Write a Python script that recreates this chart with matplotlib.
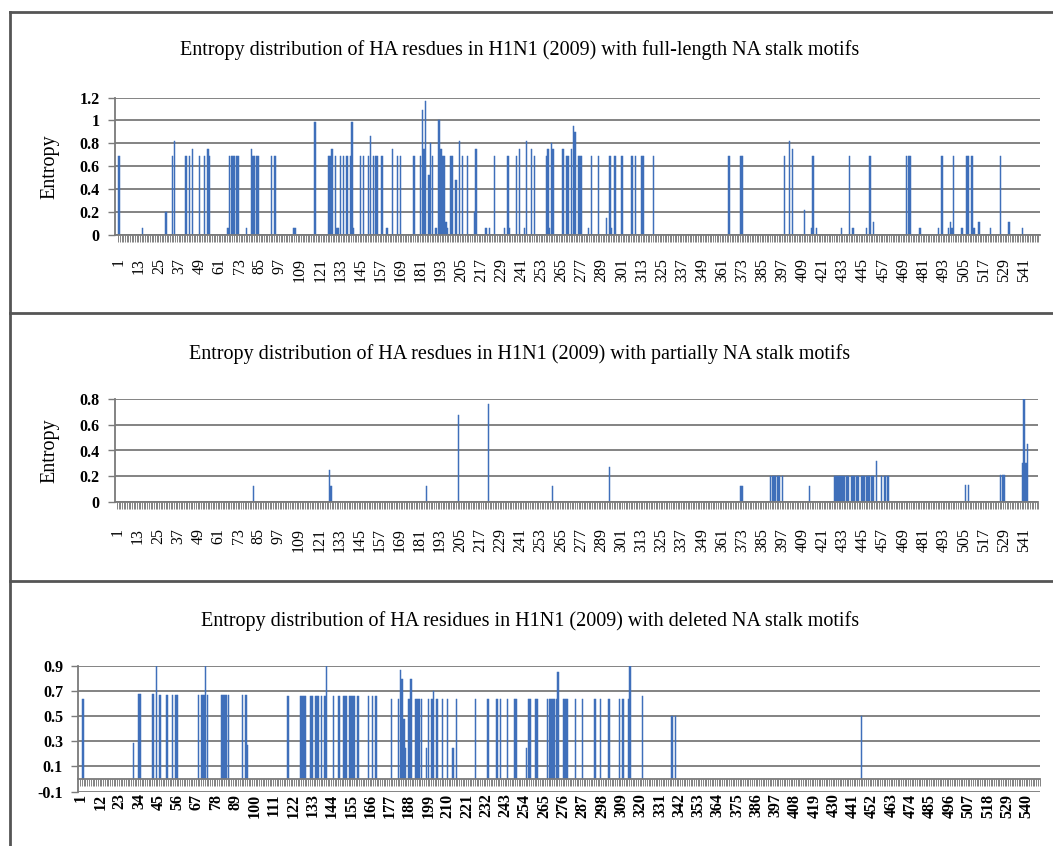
import numpy as np
import matplotlib
matplotlib.use("Agg")
import matplotlib.pyplot as plt
from matplotlib.lines import Line2D

plt.rcParams['font.family'] = ['Liberation Serif', 'DejaVu Serif']

# ---------------- data ----------------
n_residues_12 = 549   # panels 1 & 2
n_residues_3 = 547    # panel 3

# Panel 1: full-length NA stalk motifs  (residue position, entropy)
full_pos = [1, 15, 29, 33, 34, 41, 43, 45, 49, 52, 54, 55, 66, 67, 68, 69, 70, 71, 72,
            77, 80, 81, 82, 83, 84, 92, 94, 105, 106, 118, 126, 127, 128, 130, 131, 132,
            133, 135, 137, 139, 140, 141, 145, 147, 150, 151, 153, 154, 155, 158, 161,
            164, 167, 169, 177, 181, 182, 183, 184, 186, 187, 188, 190, 192, 193, 194,
            195, 196, 197, 199, 200, 202, 204, 206, 209, 213, 214, 220, 222, 225, 231,
            233, 234, 238, 240, 243, 244, 247, 249, 256, 257, 258, 259, 260, 266, 268,
            269, 271, 272, 273, 275, 276, 277, 281, 283, 287, 292, 294, 295, 297, 301,
            307, 309, 313, 314, 320, 365, 372, 373, 398, 401, 403, 410, 414, 415, 417,
            432, 437, 439, 447, 449, 451, 471, 472, 473, 479, 490, 492, 496, 497, 498,
            499, 504, 507, 508, 510, 511, 514, 521, 527, 532, 540]
full_val = [0.69, 0.06, 0.20, 0.69, 0.82, 0.69, 0.69, 0.75, 0.69, 0.69, 0.75, 0.69, 0.06,
            0.69, 0.69, 0.69, 0.69, 0.69, 0.69,
            0.06, 0.75, 0.69, 0.69, 0.69, 0.69, 0.69, 0.69, 0.06, 0.06, 0.99, 0.69, 0.69,
            0.75, 0.69, 0.06, 0.06,
            0.69, 0.69, 0.69, 0.69, 0.99, 0.06, 0.69, 0.69, 0.69, 0.86, 0.69, 0.69, 0.69,
            0.69, 0.06,
            0.75, 0.69, 0.69, 0.69, 0.69, 1.09, 0.75, 1.17, 0.52, 0.80, 0.69, 0.06, 1.00,
            0.75, 0.69,
            0.69, 0.11, 0.06, 0.69, 0.69, 0.48, 0.82, 0.69, 0.69, 0.20, 0.75, 0.06, 0.06,
            0.69, 0.06,
            0.69, 0.06, 0.69, 0.75, 0.06, 0.82, 0.75, 0.69, 0.69, 0.75, 0.06, 0.80, 0.75,
            0.75, 0.69,
            0.69, 0.75, 0.95, 0.90, 0.69, 0.69, 0.69, 0.06, 0.69, 0.69, 0.15, 0.69, 0.06,
            0.69, 0.69,
            0.69, 0.69, 0.69, 0.69, 0.69, 0.69, 0.69, 0.69, 0.69, 0.82, 0.75, 0.22, 0.06,
            0.69, 0.06,
            0.06, 0.69, 0.06, 0.06, 0.69, 0.11, 0.69, 0.69, 0.69, 0.06, 0.06, 0.69, 0.06,
            0.11, 0.06,
            0.69, 0.06, 0.69, 0.69, 0.69, 0.06, 0.11, 0.06, 0.69, 0.11, 0.06]

# Panel 2: partially NA stalk motifs
part_pos = [82, 127, 128, 185, 204, 222, 260, 294, 372, 373,
            390, 391, 392, 393, 394, 395, 397, 413,
            428, 429, 430, 431, 432, 433, 434, 435, 436,
            438, 439, 440, 441, 442,
            444, 445, 446, 447, 448, 449, 450, 451, 453, 456, 458, 460,
            506, 508, 527, 528, 529, 540, 541, 542, 543]
part_val = [0.12, 0.25, 0.12, 0.12, 0.68, 0.76, 0.12, 0.27, 0.12, 0.12,
            0.20, 0.20, 0.20, 0.20, 0.20, 0.20, 0.20, 0.12,
            0.20, 0.20, 0.20, 0.20, 0.20, 0.20, 0.20, 0.20, 0.20,
            0.20, 0.20, 0.20, 0.20, 0.20,
            0.20, 0.20, 0.20, 0.20, 0.20, 0.20, 0.20, 0.20, 0.32, 0.20, 0.20, 0.20,
            0.13, 0.13, 0.21, 0.21, 0.21, 0.30, 0.80, 0.30, 0.45]

# Panel 3: deleted NA stalk motifs
del_pos = [2, 31, 34, 35, 42, 44, 46, 50, 53, 55, 56, 68, 70, 71, 72, 73,
           81, 82, 83, 84, 85, 93, 95, 96, 119, 126, 127, 128, 129,
           132, 133, 135, 136, 138, 140, 141, 145, 148, 151, 152, 154, 155, 156, 157,
           159, 165, 167, 169, 178, 182, 183, 184, 185, 186, 188, 189,
           192, 193, 194, 195, 198, 199, 201, 202, 204, 207, 210, 213, 215,
           226, 233, 238, 240, 244, 248, 249, 255, 256, 257, 260, 261,
           267, 268, 269, 270, 271, 272, 273, 276, 277, 278, 283, 287,
           294, 297, 302, 308, 310, 313, 314, 321, 338, 340, 446]
del_val = [0.64, 0.29, 0.68, 0.68, 0.68, 0.90, 0.67, 0.67, 0.67, 0.67, 0.67, 0.67, 0.67,
           0.67, 0.90, 0.67,
           0.67, 0.67, 0.67, 0.67, 0.67, 0.67, 0.67, 0.27, 0.66, 0.66, 0.66, 0.66, 0.66,
           0.66, 0.66, 0.66, 0.66, 0.66, 0.66, 0.90, 0.66, 0.66, 0.66, 0.66, 0.66, 0.66,
           0.66, 0.66,
           0.66, 0.66, 0.66, 0.66, 0.64, 0.64, 0.87, 0.80, 0.48, 0.25, 0.64, 0.80,
           0.64, 0.64, 0.64, 0.64, 0.25, 0.64, 0.64, 0.70, 0.64, 0.64, 0.64, 0.25, 0.64,
           0.64, 0.64, 0.64, 0.64, 0.64, 0.64, 0.64, 0.25, 0.64, 0.64, 0.64, 0.64,
           0.64, 0.64, 0.64, 0.64, 0.64, 0.64, 0.85, 0.64, 0.64, 0.64, 0.64, 0.64,
           0.64, 0.64, 0.64, 0.64, 0.64, 0.64, 0.90, 0.66, 0.50, 0.50, 0.50]

titles = ["Entropy distribution of HA resdues in H1N1 (2009) with full-length NA stalk motifs",
          "Entropy distribution of HA resdues in H1N1 (2009) with partially NA stalk motifs",
          "Entropy distribution of HA residues in H1N1 (2009) with deleted NA stalk motifs"]

yticks_1 = [0, 0.2, 0.4, 0.6, 0.8, 1, 1.2]
ytick_labels_1 = ["0", "0.2", "0.4", "0.6", "0.8", "1", "1.2"]
yticks_2 = [0, 0.2, 0.4, 0.6, 0.8]
ytick_labels_2 = ["0", "0.2", "0.4", "0.6", "0.8"]
yticks_3 = [-0.1, 0.1, 0.3, 0.5, 0.7, 0.9]
ytick_labels_3 = ["-0.1", "0.1", "0.3", "0.5", "0.7", "0.9"]
xticks_12 = list(range(1, 542, 12))
xticks_3 = list(range(1, 541, 11))

# ---------------- layout ----------------
W, H = 1053, 846
fig = plt.figure(figsize=(W / 100, H / 100), dpi=100)
fig.patch.set_facecolor('white')


def rect(l, t, r, b):
    return [l / W, 1 - b / H, (r - l) / W, (b - t) / H]


BAR = '#3f6fba'
GRID = '#7a7a7a'


def style(ax, xlim, ylim, yt, ytl, xt, n, xpad, bold_x=False):
    ax.set_xlim(*xlim)
    ax.set_ylim(*ylim)
    ax.set_yticks(yt)
    ax.set_yticklabels(ytl, fontsize=11.5, fontweight='bold')
    ax.set_xticks(xt)
    ax.set_xticklabels([str(v) for v in xt], rotation=90, fontsize=11.5,
                       fontweight='bold' if bold_x else 'normal')
    ax.set_xticks(np.arange(0.5, n + 1.0, 1.0), minor=True)
    ax.tick_params(axis='x', which='major', length=0, pad=xpad)
    ax.tick_params(axis='x', which='minor', length=5, width=0.6, color='#6f6f6f')
    ax.tick_params(axis='y', which='major', length=5, width=1.0, color=GRID, pad=6)
    ax.yaxis.grid(True, color=GRID, linewidth=1.3)
    ax.set_axisbelow(True)
    for s in ['top', 'right']:
        ax.spines[s].set_visible(False)
    for s in ['left', 'bottom']:
        ax.spines[s].set_color(GRID)
        ax.spines[s].set_linewidth(1.3)
    ax.set_facecolor('none')


def bars(ax, pos, val):
    ax.bar(pos, val, width=0.85, color=BAR, edgecolor=BAR, linewidth=0.35)


# Panel 1
ax1 = fig.add_axes(rect(115, 97.6, 1040, 234.8))
bars(ax1, full_pos, full_val)
style(ax1, (-1.4, 550.5), (0, 1.2), yticks_1, ytick_labels_1, xticks_12, n_residues_12, 17)
ax1.set_ylabel("Entropy", fontsize=14.5)
ax1.yaxis.set_label_coords(-0.0605, 0.5)

# Panel 2
ax2 = fig.add_axes(rect(115, 399.3, 1038.4, 501.7))
bars(ax2, part_pos, part_val)
style(ax2, (-0.66, 548), (0, 0.8), yticks_2, ytick_labels_2, xticks_12, n_residues_12, 19)
ax2.set_ylabel("Entropy", fontsize=14.5)
ax2.yaxis.set_label_coords(-0.0606, 0.5)

# Panel 3
ax3 = fig.add_axes(rect(78.4, 666, 1040, 791.5))
ax3.spines['bottom'].set_position(('data', 0))
bars(ax3, del_pos, del_val)
style(ax3, (-0.54, 547.7), (-0.1, 0.9), yticks_3, ytick_labels_3, xticks_3, n_residues_3, 10.5,
      bold_x=True)

# Titles
fig.text(520 / W, 1 - 50 / H, titles[0], ha='center', va='center', fontsize=14.5)
fig.text(520 / W, 1 - 354 / H, titles[1], ha='center', va='center', fontsize=14.5)
fig.text(530 / W, 1 - 621 / H, titles[2], ha='center', va='center', fontsize=14.5)

# Panel borders
BORDER = '#555555'
for y in [12, 313, 581]:
    fig.add_artist(Line2D([10 / W, 1.0], [1 - y / H, 1 - y / H], color=BORDER, linewidth=2.0,
                          transform=fig.transFigure))
fig.add_artist(Line2D([10 / W, 10 / W], [1 - 12 / H, 0.0], color=BORDER, linewidth=2.0,
                      transform=fig.transFigure))

fig.savefig("out.png", dpi=100)
